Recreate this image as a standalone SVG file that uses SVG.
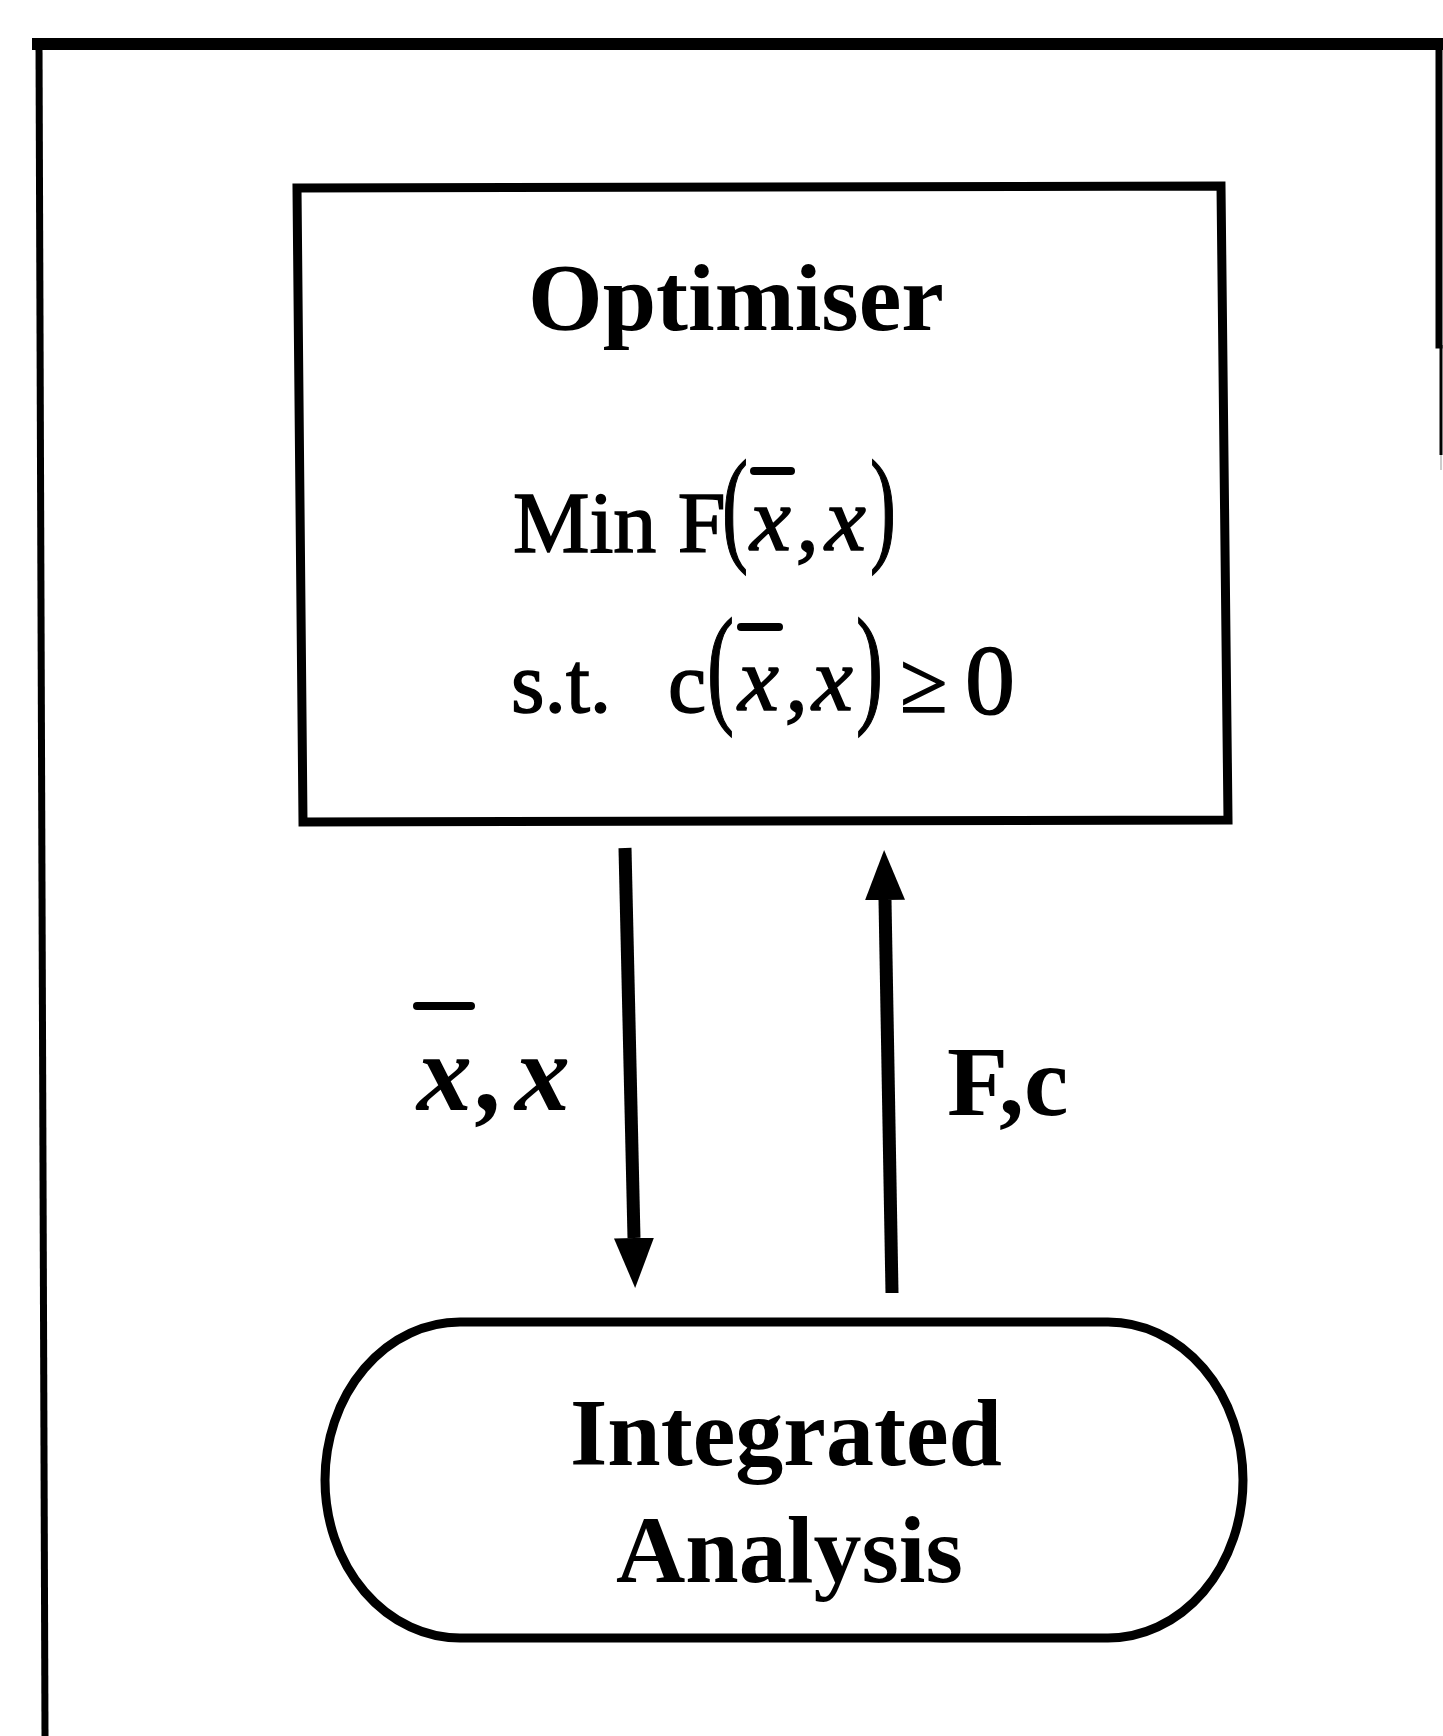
<svg xmlns="http://www.w3.org/2000/svg" width="1443" height="1736" viewBox="0 0 1443 1736">
<style>
.frame{fill:none;stroke:#000;stroke-linecap:square}
.box{fill:#fff;stroke:#000;stroke-width:9;stroke-linejoin:miter}
.title{font-family:"Liberation Serif","Times New Roman",serif;font-weight:bold;font-size:96px;fill:#000}
.math{font-family:"Liberation Serif","Times New Roman",serif;fill:#000;stroke:#000;stroke-width:1.5}
.ital{font-style:italic}
.lbl{font-family:"Liberation Serif","Times New Roman",serif;font-weight:bold;fill:#000}
.bar{stroke:#000;stroke-width:8;stroke-linecap:round}
.conn{fill:none;stroke:#000;stroke-width:13}
</style>
<defs>
<marker id="ah" viewBox="0 0 50 40" refX="0" refY="20" markerWidth="50" markerHeight="40" markerUnits="userSpaceOnUse" orient="auto">
<path d="M0,0 L50,20 L0,40 z" fill="#000"/>
</marker>
</defs>
<rect width="1443" height="1736" fill="#fff"/>
<g id="frame">
<path class="frame" d="M38,44 L1443,44" stroke-width="12"/>
<path class="frame" d="M39,42 L45,1736" stroke-width="7"/>
<path class="frame" d="M1439,42 L1439,345" stroke-width="7"/>
<path d="M1441,345 L1441,455" stroke="#000" stroke-width="3"/>
<path d="M1441,455 L1441,470" stroke="#bbb" stroke-width="1.5"/>
</g>
<g id="optimiser">
<polygon class="box" points="297,188 1221,186 1228,820 303,822"/>
<text class="title" x="528" y="330">Optimiser</text>
<text class="math" x="513" y="552" font-size="86">Min F</text>
<text class="math" transform="translate(722,548) scale(0.62,1)" font-size="126">(</text>
<text class="math ital" x="750" y="550" font-size="92">x</text>
<line class="bar" x1="754" y1="471" x2="791" y2="471"/>
<text class="math ital" x="796" y="550" font-size="92">,</text>
<text class="math ital" x="825" y="550" font-size="92">x</text>
<text class="math" transform="translate(870,548) scale(0.62,1)" font-size="126">)</text>
<text class="math" x="511" y="712" font-size="86">s.t.</text>
<text class="math" x="668" y="712" font-size="86">c</text>
<text class="math" transform="translate(707,709) scale(0.62,1)" font-size="131">(</text>
<text class="math ital" x="738" y="710" font-size="92">x</text>
<line class="bar" x1="741" y1="627" x2="779" y2="627"/>
<text class="math ital" x="785" y="710" font-size="92">,</text>
<text class="math ital" x="812" y="710" font-size="92">x</text>
<text class="math" transform="translate(856,709) scale(0.62,1)" font-size="131">)</text>
<text class="math" x="900" y="712" font-size="86">≥</text>
<text class="math" x="965" y="713" font-size="100">0</text>
</g>
<g id="analysis">
<rect class="box" x="325" y="1322" width="918" height="316" rx="135" ry="158"/>
<text class="title" x="570" y="1465">Integrated</text>
<text class="title" x="616" y="1582">Analysis</text>
</g>
<g id="connectors">
<path class="conn" d="M625,848 L634,1238" marker-end="url(#ah)"/>
<path class="conn" d="M892,1293 L885,900" marker-end="url(#ah)"/>
<g id="label-xbar-x">
<text class="lbl ital" x="417" y="1110" font-size="110">x</text>
<line class="bar" x1="417" y1="1006" x2="471" y2="1006" stroke-width="11"/>
<text class="lbl ital" x="478" y="1110" font-size="110">,</text>
<text class="lbl ital" x="515" y="1110" font-size="110">x</text>
</g>
<text class="lbl" x="947" y="1115" font-size="100">F,c</text>
</g>
</svg>
